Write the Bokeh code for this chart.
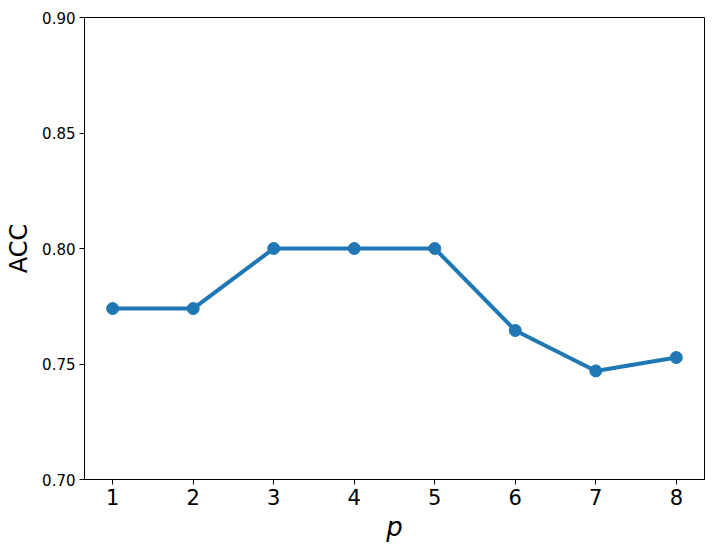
from bokeh.plotting import figure
from bokeh.models import FixedTicker, NumeralTickFormatter, Range1d
from bokeh.embed import file_html
from bokeh.resources import INLINE

p_values = [1, 2, 3, 4, 5, 6, 7, 8]
acc_values = [0.774, 0.774, 0.800, 0.800, 0.800, 0.7645, 0.747, 0.7528]
x_ticks = [1, 2, 3, 4, 5, 6, 7, 8]
y_ticks = [0.70, 0.75, 0.80, 0.85, 0.90]

color = "#1f77b4"
font = "DejaVu Sans"

p = figure(
    frame_width=620, frame_height=462,
    x_range=Range1d(0.65, 8.35), y_range=Range1d(0.70, 0.90),
    output_backend="svg", toolbar_location=None,
    min_border_left=84, min_border_top=17, min_border_right=20, min_border_bottom=60,
)
p.background_fill_color = "white"
p.border_fill_color = "white"
p.outline_line_color = "black"
p.outline_line_width = 1
p.xgrid.visible = False
p.ygrid.visible = False

p.line(p_values, acc_values, line_color=color, line_width=4)
p.scatter(p_values, acc_values, size=12, fill_color=color, line_color=color)

xa = p.xaxis[0]
xa.ticker = FixedTicker(ticks=x_ticks)
xa.axis_label = "p"
xa.axis_label_text_font = font
xa.axis_label_text_font_style = "italic"
xa.axis_label_text_font_size = "26px"
xa.axis_label_text_color = "black"
xa.axis_label_standoff = 4
xa.major_label_text_font = font
xa.major_label_text_font_size = "21px"
xa.major_label_standoff = 4
xa.major_tick_in = 0
xa.major_tick_out = 5
xa.minor_tick_out = 0
xa.minor_tick_in = 0
xa.axis_line_color = "black"
xa.major_tick_line_color = "black"
xa.major_label_text_color = "black"

ya = p.yaxis[0]
ya.ticker = FixedTicker(ticks=y_ticks)
ya.formatter = NumeralTickFormatter(format="0.00")
ya.axis_label = "ACC"
ya.axis_label_text_font = font
ya.axis_label_text_font_style = "normal"
ya.axis_label_text_font_size = "24px"
ya.axis_label_text_color = "black"
ya.axis_label_standoff = 6
ya.major_label_text_font = font
ya.major_label_text_font_size = "15px"
ya.major_label_standoff = 4
ya.major_tick_in = 0
ya.major_tick_out = 5
ya.minor_tick_out = 0
ya.minor_tick_in = 0
ya.axis_line_color = "black"
ya.major_tick_line_color = "black"
ya.major_label_text_color = "black"

open("out.html", "w").write(file_html(p, INLINE))
